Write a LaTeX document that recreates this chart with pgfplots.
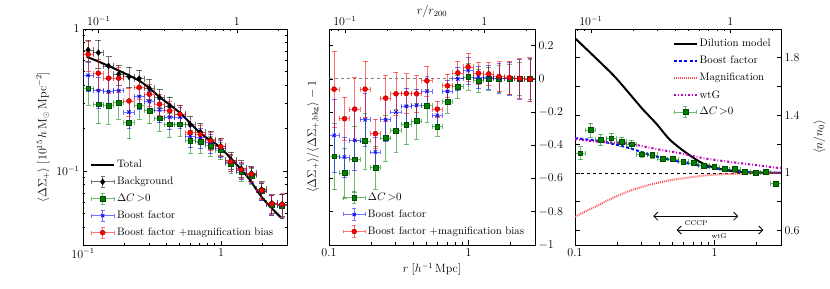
\documentclass[border=0pt]{standalone}
\usepackage{pgfplots}
\pgfplotsset{compat=1.18}
\usetikzlibrary{arrows.meta}
\definecolor{mgreen}{rgb}{0,0.5,0}
\definecolor{dgreen}{rgb}{0,0.3,0}
\definecolor{mred}{rgb}{1,0,0}
\definecolor{dred}{rgb}{0.6,0,0}
\definecolor{mblue}{rgb}{0,0,1}
\definecolor{mmag}{rgb}{0.75,0,0.75}
\definecolor{lred}{rgb}{1,0.3,0.3}
\newcommand{\errleg}[3]{%
 \draw[#1, opacity=0.55, line width=0.7pt] (0cm,0cm) -- (0.8cm,0cm) (0.4cm,-0.2cm) -- (0.4cm,0.2cm)
   (0cm,-0.07cm) -- (0cm,0.07cm) (0.8cm,-0.07cm) -- (0.8cm,0.07cm)
   (0.33cm,-0.2cm) -- (0.47cm,-0.2cm) (0.33cm,0.2cm) -- (0.47cm,0.2cm);
 \draw[#2] plot[only marks, #3] coordinates {(0.4cm,0cm)};}
\pgfplotsset{
  every axis/.append style={scale only axis, height=216pt,
    axis line style={line width=0.9pt}, tick style={black, line width=0.6pt},
    major tick length=4.5pt, minor tick length=2.5pt,
    tick label style={font=\fontsize{12}{14}\selectfont},
    label style={font=\fontsize{12}{14}\selectfont}},
  every axis legend/.append style={font=\fontsize{10.8}{13}\selectfont, draw=none, fill=none, row sep=3.9pt},
}
\begin{document}
\begin{tikzpicture}
\useasboundingbox (0pt,0pt) rectangle (830pt,289pt);
% ---------------- Panel 1 ----------------
\begin{axis}[at={(83pt,44pt)}, anchor=south west, width=204pt,
  xmode=log, xmin=0.1, xmax=3, xtick={0.1,1}, minor xtick={0.2,0.3,0.4,0.5,0.6,0.7,0.8,0.9,2,3}, xtick pos=bottom,
  ymode=log, ymin=0.03, ymax=1, ytick={0.1,1}, yticklabels={$10^{-1}$,$1$},
  minor ytick={0.04,0.05,0.06,0.07,0.08,0.09,0.2,0.3,0.4,0.5,0.6,0.7,0.8,0.9},
  xticklabels={$10^{-1}$,$1$},
  ylabel={$\langle\Delta\Sigma_+\rangle\;[10^{15}\,h\,\mathrm{M}_\odot\,\mathrm{Mpc}^{-2}]$},
  legend cell align=left,
  legend image code/.code={\draw[#1] (0cm,0cm) -- (0.8cm,0cm);},
  legend style={at={(0.02,0.411)}, anchor=north west}]
\addplot[black, line width=2pt, smooth] coordinates {
(0.1064,0.638) (0.157,0.543) (0.259,0.428) (0.361,0.330) (0.504,0.256) (0.705,0.185)
(0.984,0.146) (1.535,0.092) (2.0,0.064) (2.7,0.047)};
\addlegendentry{Total}
\addplot[black, only marks, mark=diamond*, mark size=3pt,
  legend image code/.code={\errleg{black}{black,fill=black}{mark=diamond*,mark size=3pt}},
  error bars/x dir=both, error bars/x explicit relative, error bars/y dir=both, error bars/y explicit,
  error bars/error bar style={line width=0.7pt, opacity=0.55}] coordinates {
(0.1089,0.711) +- (0.085,0.12)
(0.1291,0.681) +- (0.085,0.15)
(0.1531,0.549) +- (0.085,0.09)
(0.1815,0.480) +- (0.085,0.08)
(0.2153,0.461) +- (0.085,0.075)
(0.2549,0.447) +- (0.085,0.065)
(0.3022,0.382) +- (0.085,0.06)
(0.3583,0.328) +- (0.085,0.05)
(0.4248,0.287) +- (0.085,0.045)
(0.5036,0.251) +- (0.085,0.04)
(0.5970,0.212) +- (0.085,0.03)
(0.7078,0.188) +- (0.085,0.028)
(0.8391,0.166) +- (0.085,0.025)
(0.9947,0.149) +- (0.085,0.022)
(1.1793,0.119) +- (0.085,0.016)
(1.3981,0.104) +- (0.085,0.014)
(1.6575,0.096) +- (0.085,0.012)
(1.9650,0.074) +- (0.085,0.010)
(2.3297,0.059) +- (0.085,0.009)
(2.7618,0.058) +- (0.085,0.010)};
\addlegendentry{Background}
\addplot[mgreen, only marks, mark=square*, mark size=2.4pt, mark options={draw=dgreen, fill=mgreen},
  legend image code/.code={\errleg{mgreen}{draw=dgreen,fill=mgreen}{mark=square*,mark size=2.4pt}},
  error bars/x dir=both, error bars/x explicit relative, error bars/y dir=both, error bars/y explicit,
  error bars/error bar style={line width=0.7pt, opacity=0.55}] coordinates {
(0.1089,0.382) +- (0.085,0.09)
(0.1291,0.295) +- (0.085,0.08)
(0.1531,0.288) +- (0.085,0.075)
(0.1815,0.303) +- (0.085,0.07)
(0.2153,0.219) +- (0.085,0.05)
(0.2549,0.288) +- (0.085,0.055)
(0.3022,0.265) +- (0.085,0.05)
(0.3583,0.235) +- (0.085,0.045)
(0.4248,0.213) +- (0.085,0.04)
(0.5036,0.213) +- (0.085,0.038)
(0.5970,0.164) +- (0.085,0.03)
(0.7078,0.161) +- (0.085,0.027)
(0.8391,0.151) +- (0.085,0.024)
(0.9947,0.140) +- (0.085,0.02)
(1.1793,0.113) +- (0.085,0.016)
(1.3981,0.098) +- (0.085,0.013)
(1.6575,0.093) +- (0.085,0.012)
(1.9650,0.072) +- (0.085,0.010)
(2.3297,0.058) +- (0.085,0.009)
(2.7618,0.057) +- (0.085,0.011)};
\addlegendentry{$\Delta C\,{>}0$}
\addplot[mblue, only marks, mark=x, mark size=2.4pt, mark options={line width=0.8pt},
  legend image code/.code={\errleg{mblue}{mblue,line width=0.8pt}{mark=x,mark size=2.4pt}},
  error bars/x dir=both, error bars/x explicit relative, error bars/y dir=both, error bars/y explicit,
  error bars/error bar style={line width=0.7pt, opacity=0.55}] coordinates {
(0.1089,0.472) +- (0.085,0.11)
(0.1291,0.368) +- (0.085,0.09)
(0.1531,0.362) +- (0.085,0.08)
(0.1815,0.368) +- (0.085,0.075)
(0.2153,0.259) +- (0.085,0.06)
(0.2549,0.334) +- (0.085,0.06)
(0.3022,0.308) +- (0.085,0.055)
(0.3583,0.269) +- (0.085,0.05)
(0.4248,0.239) +- (0.085,0.043)
(0.5036,0.239) +- (0.085,0.04)
(0.5970,0.176) +- (0.085,0.03)
(0.7078,0.172) +- (0.085,0.027)
(0.8391,0.158) +- (0.085,0.024)
(0.9947,0.145) +- (0.085,0.02)
(1.1793,0.115) +- (0.085,0.016)
(1.3981,0.100) +- (0.085,0.013)
(1.6575,0.094) +- (0.085,0.012)
(1.9650,0.072) +- (0.085,0.010)
(2.3297,0.058) +- (0.085,0.009)
(2.7618,0.057) +- (0.085,0.011)};
\addlegendentry{Boost factor}
\addplot[mred, only marks, mark=*, mark size=2.5pt, mark options={draw=dred, fill=mred},
  legend image code/.code={\errleg{mred}{draw=dred,fill=mred}{mark=*,mark size=2.5pt}},
  error bars/x dir=both, error bars/x explicit relative, error bars/y dir=both, error bars/y explicit,
  error bars/error bar style={line width=0.7pt, opacity=0.55}] coordinates {
(0.1089,0.663) +- (0.085,0.16)
(0.1291,0.488) +- (0.085,0.12)
(0.1531,0.450) +- (0.085,0.10)
(0.1815,0.450) +- (0.085,0.09)
(0.2153,0.311) +- (0.085,0.07)
(0.2549,0.388) +- (0.085,0.07)
(0.3022,0.347) +- (0.085,0.06)
(0.3583,0.295) +- (0.085,0.05)
(0.4248,0.265) +- (0.085,0.045)
(0.5036,0.251) +- (0.085,0.04)
(0.5970,0.186) +- (0.085,0.03)
(0.7078,0.181) +- (0.085,0.028)
(0.8391,0.163) +- (0.085,0.024)
(0.9947,0.148) +- (0.085,0.02)
(1.1793,0.116) +- (0.085,0.016)
(1.3981,0.102) +- (0.085,0.013)
(1.6575,0.0948) +- (0.085,0.012)
(1.9650,0.0727) +- (0.085,0.010)
(2.3297,0.0586) +- (0.085,0.009)
(2.7618,0.0580) +- (0.085,0.011)};
\addlegendentry{Boost factor $+$magnification bias}
\end{axis}
\begin{axis}[at={(83pt,44pt)}, anchor=south west, width=204pt,
  xmode=log, xmin=0.076923, xmax=2.30769, ymin=0, ymax=1,
  axis x line*=top, axis y line=none,
  xtick={0.1,1}, xticklabels={$10^{-1}$,$1$},
  minor xtick={0.08,0.09,0.2,0.3,0.4,0.5,0.6,0.7,0.8,0.9,2}]
\addplot[draw=none] coordinates {(0.1,0.5)};
\end{axis}
% ---------------- Panel 2 ----------------
\begin{axis}[at={(329pt,44pt)}, anchor=south west, width=206pt,
  xmode=log, xmin=0.1, xmax=3, xtick={0.1,1}, minor xtick={0.2,0.3,0.4,0.5,0.6,0.7,0.8,0.9,2,3}, xtick pos=bottom,
  ymin=-1, ymax=0.3, ytick={-1,-0.8,-0.6,-0.4,-0.2,0,0.2},
  yticklabel pos=right, yticklabels={$-1$,$-0.8$,$-0.6$,$-0.4$,$-0.2$,$0$,$0.2$},
  xticklabels={$0.1$,$1$},
  xlabel={$r\;[h^{-1}\,\mathrm{Mpc}]$},
  ylabel={$\langle\Delta\Sigma_+\rangle/\langle\Delta\Sigma_{+,\mathrm{bkg}}\rangle-1$},
  ylabel style={at={(axis description cs:-0.03,0.5)}, rotate=0, anchor=south},
  legend cell align=left,
  legend style={at={(0.05,0.26)}, anchor=north west}]
\addplot[gray, dashed, line width=1.1pt, forget plot] coordinates {(0.1,0) (3,0)};
\addplot[mgreen, only marks, mark=square*, mark size=2.4pt, mark options={draw=dgreen, fill=mgreen},
  legend image code/.code={\errleg{mgreen}{draw=dgreen,fill=mgreen}{mark=square*,mark size=2.4pt}},
  error bars/x dir=both, error bars/x explicit relative, error bars/y dir=both, error bars/y explicit,
  error bars/error bar style={line width=0.7pt, opacity=0.55}] coordinates {
(0.1089,-0.466) +- (0.085,0.20)
(0.1291,-0.566) +- (0.085,0.15)
(0.1531,-0.484) +- (0.085,0.20)
(0.1815,-0.374) +- (0.085,0.17)
(0.2153,-0.534) +- (0.085,0.13)
(0.2549,-0.356) +- (0.085,0.14)
(0.3022,-0.310) +- (0.085,0.13)
(0.3583,-0.276) +- (0.085,0.12)
(0.4248,-0.254) +- (0.085,0.11)
(0.5036,-0.160) +- (0.085,0.10)
(0.5970,-0.286) +- (0.085,0.06)
(0.7078,-0.136) +- (0.085,0.07)
(0.8391,-0.048) +- (0.085,0.07)
(0.9947,0.012) +- (0.085,0.08)
(1.1793,-0.010) +- (0.085,0.07)
(1.3981,0.000) +- (0.085,0.07)
(1.6575,0.000) +- (0.085,0.08)
(1.9650,0.000) +- (0.085,0.09)
(2.3297,0.000) +- (0.085,0.10)
(2.7618,0.000) +- (0.085,0.12)};
\addlegendentry{$\Delta C\,{>}0$}
\addplot[mblue, only marks, mark=x, mark size=2.4pt, mark options={line width=0.8pt},
  legend image code/.code={\errleg{mblue}{mblue,line width=0.8pt}{mark=x,mark size=2.4pt}},
  error bars/x dir=both, error bars/x explicit relative, error bars/y dir=both, error bars/y explicit,
  error bars/error bar style={line width=0.7pt, opacity=0.55}] coordinates {
(0.1089,-0.340) +- (0.085,0.22)
(0.1291,-0.470) +- (0.085,0.12)
(0.1531,-0.370) +- (0.085,0.18)
(0.1815,-0.246) +- (0.085,0.16)
(0.2153,-0.440) +- (0.085,0.09)
(0.2549,-0.246) +- (0.085,0.13)
(0.3022,-0.200) +- (0.085,0.12)
(0.3583,-0.165) +- (0.085,0.11)
(0.4248,-0.160) +- (0.085,0.10)
(0.5036,-0.075) +- (0.085,0.09)
(0.5970,-0.220) +- (0.085,0.05)
(0.7078,-0.076) +- (0.085,0.07)
(0.8391,0.000) +- (0.085,0.07)
(0.9947,0.050) +- (0.085,0.08)
(1.1793,0.010) +- (0.085,0.065)
(1.3981,0.010) +- (0.085,0.07)
(1.6575,0.005) +- (0.085,0.09)
(1.9650,0.003) +- (0.085,0.10)
(2.3297,0.000) +- (0.085,0.12)
(2.7618,-0.003) +- (0.085,0.13)};
\addlegendentry{Boost factor}
\addplot[mred, only marks, mark=*, mark size=2.5pt, mark options={draw=dred, fill=mred},
  legend image code/.code={\errleg{mred}{draw=dred,fill=mred}{mark=*,mark size=2.5pt}},
  error bars/x dir=both, error bars/x explicit relative, error bars/y dir=both, error bars/y explicit,
  error bars/error bar style={line width=0.7pt, opacity=0.55}] coordinates {
(0.1089,-0.062) +- (0.085,0.23)
(0.1291,-0.240) +- (0.085,0.13)
(0.1531,-0.182) +- (0.085,0.19)
(0.1815,-0.062) +- (0.085,0.17)
(0.2153,-0.330) +- (0.085,0.09)
(0.2549,-0.116) +- (0.085,0.14)
(0.3022,-0.090) +- (0.085,0.13)
(0.3583,-0.088) +- (0.085,0.12)
(0.4248,-0.090) +- (0.085,0.11)
(0.5036,-0.012) +- (0.085,0.09)
(0.5970,-0.182) +- (0.085,0.05)
(0.7078,-0.042) +- (0.085,0.07)
(0.8391,0.036) +- (0.085,0.07)
(0.9947,0.072) +- (0.085,0.085)
(1.1793,0.034) +- (0.085,0.065)
(1.3981,0.030) +- (0.085,0.07)
(1.6575,0.014) +- (0.085,0.09)
(1.9650,0.008) +- (0.085,0.10)
(2.3297,0.002) +- (0.085,0.12)
(2.7618,-0.002) +- (0.085,0.13)};
\addlegendentry{Boost factor $+$magnification bias}
\end{axis}
\begin{axis}[at={(329pt,44pt)}, anchor=south west, width=206pt,
  xmode=log, xmin=0.076923, xmax=2.30769, ymin=0, ymax=1,
  axis x line*=top, axis y line=none,
  xtick={0.1,1}, xticklabels={$10^{-1}$,$1$},
  minor xtick={0.08,0.09,0.2,0.3,0.4,0.5,0.6,0.7,0.8,0.9,2},
  xlabel={$r/r_{200}$},
  xlabel style={at={(axis description cs:0.5,1)}, anchor=south, yshift=8pt}]
\addplot[draw=none] coordinates {(0.1,0.5)};
\end{axis}
% ---------------- Panel 3 ----------------
\begin{axis}[at={(575pt,44pt)}, anchor=south west, width=206pt,
  xmode=log, xmin=0.1, xmax=3, xtick={0.1,1}, minor xtick={0.2,0.3,0.4,0.5,0.6,0.7,0.8,0.9,2,3}, xtick pos=bottom,
  ymin=0.5, ymax=2.0, ytick={0.6,1,1.4,1.8},
  extra y ticks={0.8,1.2,1.6}, extra y tick labels={},
  yticklabel pos=right, yticklabels={$0.6$,$1$,$1.4$,$1.8$},
  xticklabels={$0.1$,$1$},
  ylabel={$\langle n/n_0\rangle$},
  ylabel style={at={(axis description cs:1.14,0.5)}, rotate=0, anchor=north},
  legend cell align=left,
  legend image code/.code={\draw[#1] (0cm,0cm) -- (0.8cm,0cm);},
  legend style={at={(0.975,0.971)}, anchor=north east}]
\addplot[black, dashed, line width=0.6pt, forget plot] coordinates {(0.1,1) (3,1)};
\addplot[black, line width=2pt, smooth] coordinates {
(0.1,1.936) (0.139,1.804) (0.194,1.666) (0.269,1.506) (0.301,1.45) (0.385,1.34)
(0.480,1.23) (0.632,1.138) (0.832,1.064) (1.094,1.028) (1.442,1.009) (1.897,1.004) (3.0,1.0)};
\addlegendentry{Dilution model}
\addplot[mblue, line width=2pt, dash pattern=on 3pt off 2.2pt, smooth] coordinates {
(0.1,1.242) (0.143,1.225) (0.178,1.207) (0.248,1.172) (0.345,1.126) (0.480,1.092)
(0.632,1.069) (0.832,1.046) (1.094,1.028) (1.442,1.014) (2.0,1.004) (3.0,1.002)};
\addlegendentry{Boost factor}
\addplot[lred, line width=2pt, dash pattern=on 0.9pt off 1.1pt, smooth] coordinates {
(0.1,0.697) (0.135,0.759) (0.188,0.828) (0.262,0.885) (0.364,0.924) (0.506,0.954)
(0.704,0.972) (0.98,0.988) (1.44,0.995) (2.14,1.0) (3.0,1.0)};
\addlegendentry{Magnification}
\addplot[mmag, line width=2pt, dash pattern=on 2.2pt off 2pt on 0.8pt off 2pt, smooth] coordinates {
(0.1,1.235) (0.145,1.218) (0.248,1.202) (0.384,1.166) (0.565,1.138) (0.832,1.103)
(1.224,1.080) (1.897,1.057) (3.0,1.033)};
\addlegendentry{wtG}
\addplot[mgreen, only marks, mark=square*, mark size=2.4pt, mark options={draw=dgreen, fill=mgreen},
  legend image code/.code={\errleg{mgreen}{draw=dgreen,fill=mgreen}{mark=square*,mark size=2.4pt}},
  error bars/x dir=both, error bars/x explicit relative, error bars/y dir=both, error bars/y explicit,
  error bars/error bar style={line width=0.7pt, opacity=0.55}] coordinates {
(0.1089,1.138) +- (0.085,0.045)
(0.1291,1.299) +- (0.085,0.048)
(0.1531,1.230) +- (0.085,0.04)
(0.1815,1.241) +- (0.085,0.035)
(0.2153,1.218) +- (0.085,0.03)
(0.2549,1.200) +- (0.085,0.028)
(0.3022,1.131) +- (0.085,0.02)
(0.3583,1.126) +- (0.085,0.02)
(0.4248,1.097) +- (0.085,0.015)
(0.5036,1.097) +- (0.085,0.015)
(0.5970,1.080) +- (0.085,0.012)
(0.7078,1.069) +- (0.085,0.012)
(0.8391,1.050) +- (0.085,0.01)
(0.9947,1.041) +- (0.085,0.01)
(1.1793,1.028) +- (0.085,0.01)
(1.3981,1.028) +- (0.085,0.01)
(1.6575,1.011) +- (0.085,0.008)
(1.9650,1.000) +- (0.085,0.008)
(2.3297,1.007) +- (0.085,0.008)
(2.7618,0.926) +- (0.085,0.008)};
\addlegendentry{$\Delta C\,{>}0$}
\draw[{Straight Barb[length=4pt]}-{Straight Barb[length=4pt]}, line width=0.8pt] (axis cs:0.364,0.70) -- (axis cs:1.48,0.70);
\node[font=\fontsize{7}{8}\selectfont] at (axis cs:0.74,0.655) {CCCP};
\draw[{Straight Barb[length=4pt]}-{Straight Barb[length=4pt]}, line width=0.8pt] (axis cs:0.536,0.604) -- (axis cs:2.24,0.604);
\node[font=\fontsize{7}{8}\selectfont] at (axis cs:1.08,0.562) {wtG};
\end{axis}
\begin{axis}[at={(575pt,44pt)}, anchor=south west, width=206pt,
  xmode=log, xmin=0.076923, xmax=2.30769, ymin=0, ymax=1,
  axis x line*=top, axis y line=none,
  xtick={0.1,1}, xticklabels={$10^{-1}$,$1$},
  minor xtick={0.08,0.09,0.2,0.3,0.4,0.5,0.6,0.7,0.8,0.9,2}]
\addplot[draw=none] coordinates {(0.1,0.5)};
\end{axis}
\end{tikzpicture}
\end{document}
